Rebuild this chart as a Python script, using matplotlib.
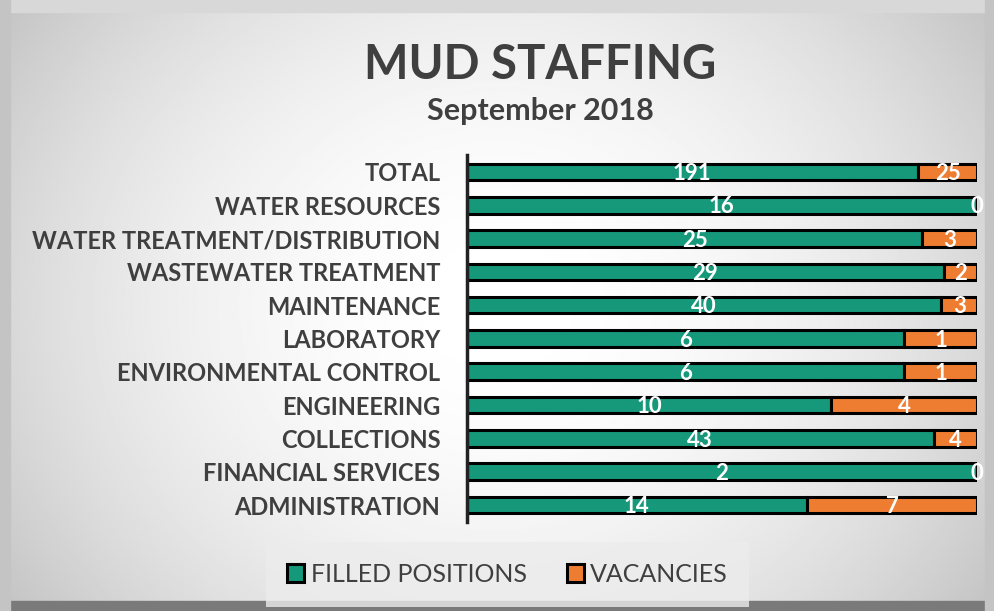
import numpy as np
import matplotlib.pyplot as plt
from matplotlib.patches import Rectangle

categories = ['TOTAL', 'WATER RESOURCES', 'WATER TREATMENT/DISTRIBUTION',
              'WASTEWATER TREATMENT', 'MAINTENANCE', 'LABORATORY',
              'ENVIRONMENTAL CONTROL', 'ENGINEERING', 'COLLECTIONS',
              'FINANCIAL SERVICES', 'ADMINISTRATION']
filled = [191, 16, 25, 29, 40, 6, 6, 10, 43, 2, 14]
vacancies = [25, 0, 3, 2, 3, 1, 1, 4, 4, 0, 7]

green = '#16987a'
orange = '#ee7d32'
dark = '#3f3f3f'

plt.rcParams['font.family'] = ['Lato', 'DejaVu Sans']

fig = plt.figure(figsize=(9.95, 6.11), dpi=100)

# fondo con degradado
bg = fig.add_axes([0, 0, 1, 1], zorder=-10)
yy, xx = np.mgrid[-1:1:300j, -1:1:500j]
r = np.sqrt((xx * 0.85) ** 2 + (yy * 0.6) ** 2)
bg.imshow(1 - 0.22 * np.clip(r, 0, 1.2) ** 2, cmap='gray', vmin=0, vmax=1,
          extent=[0, 1, 0, 1], aspect='auto')
bg.add_patch(Rectangle((0, 0), 1, 0.016, color='#7a7a7a'))
bg.add_patch(Rectangle((0, 0.98), 1, 0.02, color='#d8d8d8'))
bg.add_patch(Rectangle((0, 0), 0.01, 1, color='#c4c4c4'))
bg.add_patch(Rectangle((0.99, 0), 0.01, 1, color='#c4c4c4'))
bg.set_xlim(0, 1)
bg.set_ylim(0, 1)
bg.axis('off')

ax = fig.add_axes([0.469, 0.146, 0.513, 0.60])
ax.patch.set_alpha(0)

tot = np.array(filled) + np.array(vacancies)
pf = np.array(filled) / tot
pv = np.array(vacancies) / tot
y = np.arange(len(categories))

b1 = ax.barh(y, pf, height=0.5, color=green, edgecolor='black', linewidth=2.2, label='FILLED POSITIONS')
b2 = ax.barh(y, pv, left=pf, height=0.5, color=orange, edgecolor='black', linewidth=2.2, label='VACANCIES')

for i in range(len(categories)):
    ax.text(pf[i] / 2, y[i] + 0.05, str(filled[i]), color='white', fontsize=16,
            fontweight='bold', ha='center', va='center')
    ax.text(pf[i] + pv[i] / 2, y[i] + 0.05, str(vacancies[i]), color='white', fontsize=16,
            fontweight='bold', ha='center', va='center')

ax.set_ylim(len(categories) - 0.5, -0.5)
ax.set_xlim(0, 1)
ax.set_yticks(y)
ax.set_yticklabels(categories, fontsize=17, fontweight='bold', color=dark)
ax.tick_params(axis='y', length=0, pad=19)
ax.set_xticks([])
for s in ['top', 'right', 'bottom']:
    ax.spines[s].set_visible(False)
ax.spines['left'].set_linewidth(2.5)
ax.spines['left'].set_color('#222222')

fig.text(0.543, 0.894, 'MUD STAFFING', fontsize=34, fontweight='bold', color=dark, ha='center', va='center')
fig.text(0.543, 0.818, 'September 2018', fontsize=22, fontweight='bold', color=dark, ha='center', va='center')

leg = fig.legend(handles=[b1, b2], loc='center', bbox_to_anchor=(0.51, 0.06), ncol=2,
                 frameon=True, fontsize=18, handlelength=0.7, handleheight=0.7,
                 handletextpad=0.25, columnspacing=1.6, borderpad=0.55)
leg.get_frame().set_facecolor('#ececec')
leg.get_frame().set_edgecolor('none')
leg.get_frame().set_boxstyle('square')
for t in leg.get_texts():
    t.set_color(dark)

fig.savefig('out.png', dpi=100)
